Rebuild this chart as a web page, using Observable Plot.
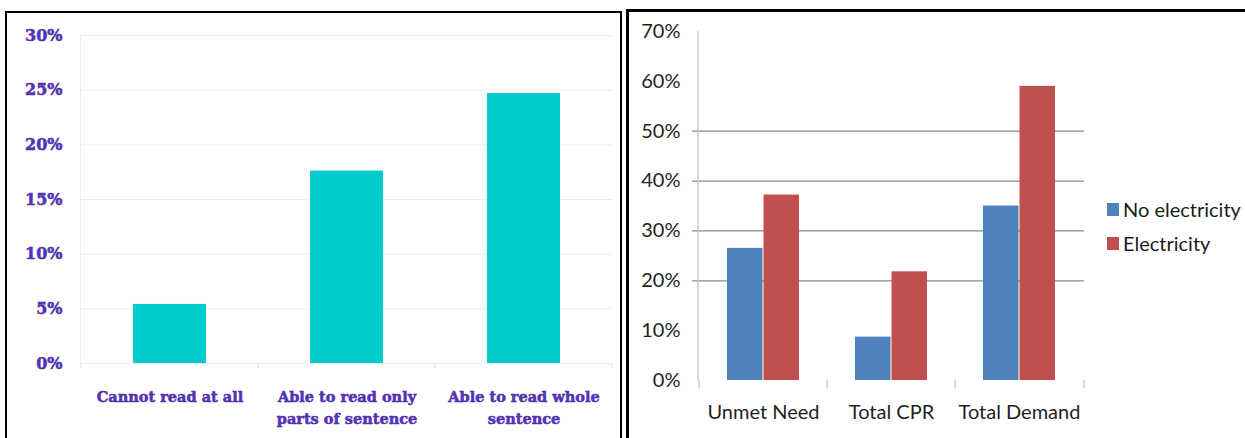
<!DOCTYPE html>
<html><head><meta charset="utf-8">
<script src="https://cdn.jsdelivr.net/npm/d3@7"></script>
<script src="https://cdn.jsdelivr.net/npm/@observablehq/plot@0.6"></script>
<style>
html,body{margin:0;padding:0;background:#fff;}
#wrap{position:relative;width:1245px;height:438px;overflow:hidden;background:#fff;}
#left{position:absolute;left:0;top:0;}
#left text{stroke:#4a2a9a;stroke-width:0.5px;}
#right{position:absolute;left:628px;top:0;}
.box{position:absolute;border-style:solid;border-color:#000;box-sizing:border-box;pointer-events:none;}
#legend{position:absolute;left:1107px;top:192px;font-family:Lato,sans-serif;font-size:20px;color:#1a1a1a;}
.item{display:flex;align-items:center;height:34px;white-space:nowrap;}
.sw{width:12px;height:13px;margin-right:4px;}
</style></head>
<body>
<div id="wrap">
  <div id="left"></div>
  <div id="right"></div>
  <div id="legend"></div>
  <div class="box" style="left:5px;top:11px;width:617px;height:450px;border-width:2px;"></div>
  <div class="box" style="left:626px;top:9px;width:650px;height:450px;border-width:3px;"></div>
</div>
<script>
// ---- Left chart data ----
const readCategories = ["Cannot read at all", "Able to read only\nparts of sentence", "Able to read whole\nsentence"];
const readValues = [0.054, 0.176, 0.247];
const leftTicks = [0, 0.05, 0.10, 0.15, 0.20, 0.25, 0.30];

// ---- Right chart data ----
const needCategories = ["Unmet Need", "Total CPR", "Total Demand"];
const series = ["No electricity", "Electricity"];
const noElectricity = [0.265, 0.087, 0.350];
const electricity = [0.372, 0.218, 0.590];
const rightTicks = [0, 0.1, 0.2, 0.3, 0.4, 0.5, 0.6, 0.7];
const rightGrid = [0.2, 0.3, 0.4, 0.5];
const seriesColors = ["#4F81BD", "#C0504D"];

const pct = d3.format(".0%");
const purple = "#5533c4";

function addBoundaries(chart, color, extend, withAxis) {
  const sx = chart.scale("x"), sy = chart.scale("y");
  const bounds = sx.domain.map(d => sx.apply(d)).concat([sx.range[1]]);
  const base = sy.apply(0);
  const svg = d3.select(chart.tagName === "svg" ? chart : chart.querySelector("svg"));
  const g = svg.append("g").attr("stroke", color).attr("stroke-width", 1.3);
  bounds.forEach(x => g.append("line").attr("x1", x).attr("x2", x).attr("y1", base).attr("y2", base + extend));
  if (withAxis) {
    g.append("line").attr("x1", sx.range[0]).attr("x2", sx.range[0])
      .attr("y1", sy.apply(sy.domain[1])).attr("y2", base);
  }
}

// Left chart
const leftData = readCategories.map((c, i) => ({c, v: readValues[i]}));
const left = Plot.plot({
  width: 620, height: 438,
  marginLeft: 80, marginRight: 8, marginTop: 35, marginBottom: 75,
  style: {fontFamily: "'DejaVu Serif', serif", fontWeight: "bold", fontSize: "14px", background: "transparent", overflow: "visible", color: purple},
  x: {domain: readCategories, padding: 0},
  y: {domain: [0, 0.3]},
  marks: [
    Plot.ruleY(leftTicks, {stroke: "#ececf2"}),
    Plot.frame({anchor: "left", stroke: "#ececf2"}),
    Plot.barY(leftData, {x: "c", y: "v", fill: "#00CCCC", insetLeft: 52, insetRight: 52}),
    Plot.axisY({ticks: leftTicks, tickFormat: pct, tickSize: 0, tickPadding: 18, label: null, color: purple, fontSize: 16, fontWeight: "bold"}),
    Plot.axisX({tickSize: 0, tickPadding: 23, label: null, lineHeight: 1.5, color: purple, fontSize: 14.5, fontWeight: "bold"})
  ]
});
document.getElementById("left").append(left);
addBoundaries(left, "#e6e6ef", 5, false);

// Right chart
const rightData = needCategories.flatMap((c, i) => [
  {c, s: series[0], v: noElectricity[i]},
  {c, s: series[1], v: electricity[i]}
]);
const right = Plot.plot({
  width: 617, height: 438,
  marginLeft: 70, marginRight: 161, marginTop: 31, marginBottom: 58,
  style: {fontFamily: "Lato, sans-serif", fontSize: "20px", background: "transparent", overflow: "visible", color: "#1f1f1f"},
  x: {domain: needCategories, padding: 0},
  y: {domain: [0, 0.7]},
  color: {domain: series, range: seriesColors},
  marks: [
    Plot.ruleY(rightGrid, {stroke: "#8a8a8a", strokeWidth: 1.2, insetLeft: -6}),
    Plot.barY(rightData.filter(d => d.s === series[0]), {x: "c", y: "v", fill: "s", insetLeft: 28, insetRight: 64.5}),
    Plot.barY(rightData.filter(d => d.s === series[1]), {x: "c", y: "v", fill: "s", insetLeft: 64.5, insetRight: 28}),
    Plot.axisY({ticks: rightTicks, tickFormat: pct, tickSize: 0, tickPadding: 18, label: null, fontSize: 20}),
    Plot.axisX({tickSize: 0, tickPadding: 24, label: null, fontSize: 20})
  ]
});
document.getElementById("right").append(right);
addBoundaries(right, "#c4c4c4", 8, true);

// Legend
const legend = document.getElementById("legend");
series.forEach((s, i) => {
  const item = document.createElement("div");
  item.className = "item";
  const sw = document.createElement("span");
  sw.className = "sw";
  sw.style.background = seriesColors[i];
  const t = document.createElement("span");
  t.textContent = s;
  item.append(sw, t);
  legend.append(item);
});
</script>
</body></html>
